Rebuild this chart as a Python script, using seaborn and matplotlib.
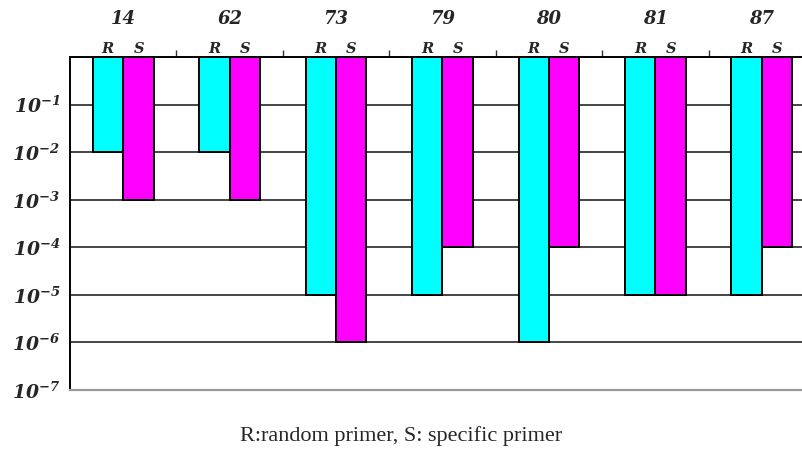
import numpy as np
import pandas as pd
import matplotlib
matplotlib.use("Agg")
import matplotlib.pyplot as plt
import matplotlib.transforms as mtransforms
import seaborn as sns

# ============================================================
# DATA (dilution limit reached)
# ============================================================
samples = ["14", "62", "73", "79", "80", "81", "87"]
random_primer = [1e-2, 1e-2, 1e-5, 1e-5, 1e-6, 1e-5, 1e-5]
specific_primer = [1e-3, 1e-3, 1e-6, 1e-4, 1e-4, 1e-5, 1e-4]
primer_labels = ["R", "S"]
decades = [1, 2, 3, 4, 5, 6, 7]
caption = "R:random primer, S: specific primer"

df = pd.DataFrame({
    "sample": samples * 2,
    "primer": ["R"] * len(samples) + ["S"] * len(samples),
    "value": random_primer + specific_primer,
})
# bars hang from 10^0 at the top: depth = number of decades
df["depth"] = -np.log10(df["value"])

# ============================================================
# STYLE
# ============================================================
sns.set_style("white")
plt.rcParams["mathtext.fontset"] = "custom"
plt.rcParams["mathtext.rm"] = "DejaVu Serif:italic:bold"
plt.rcParams["mathtext.it"] = "DejaVu Serif:italic:bold"

fig = plt.figure(figsize=(8.03, 4.57), dpi=100)
ax = fig.add_axes([70 / 803, 67 / 457, 745 / 803, 333 / 457])

sns.barplot(data=df, x="sample", y="depth", hue="primer",
            order=samples, hue_order=primer_labels,
            palette={"R": "#00FFFF", "S": "#FF00FF"}, saturation=1,
            width=0.57, edgecolor="black", linewidth=1.4,
            legend=False, ax=ax)

ax.set_xlim(-0.5, len(samples) - 0.5)
ax.set_ylim(7, 0)
ax.set_axisbelow(True)

# horizontal decade lines
ax.set_yticks(decades)
ax.set_yticklabels([r"$10^{-%d}$" % d for d in decades], fontsize=13.5)
ax.yaxis.grid(True, color="#444444", linewidth=1.4)
ax.tick_params(axis="y", length=0, pad=7)

# top axis: sample numbers + group separators
ax.xaxis.tick_top()
ax.set_xticks(range(len(samples)))
ax.set_xticklabels(samples, fontsize=13, fontfamily="DejaVu Serif",
                   fontstyle="italic", fontweight="bold")
ax.set_xticks(np.arange(0.5, len(samples) - 0.5, 1), minor=True)
ax.tick_params(axis="x", which="major", length=0, pad=21)
ax.tick_params(axis="x", which="minor", length=5, width=1,
               direction="out", color="#333333")
ax.set_xlabel("")
ax.set_ylabel("")

# R / S labels above each pair
trans = mtransforms.blended_transform_factory(ax.transData, ax.transAxes)
for i in range(len(samples)):
    for off, lab in zip([-0.145, 0.145], primer_labels):
        ax.text(i + off, 1.002, lab, transform=trans, ha="center",
                va="bottom", fontsize=10.5, fontfamily="DejaVu Serif",
                fontstyle="italic", fontweight="bold")

for side in ["left", "top"]:
    ax.spines[side].set_color("black")
    ax.spines[side].set_linewidth(1.4)
ax.spines["bottom"].set_color("#999999")
ax.spines["bottom"].set_linewidth(1.6)
ax.spines["right"].set_visible(False)

fig.text(401 / 803, (457 - 436) / 457, caption, ha="center",
         va="center", fontsize=16, fontfamily="Liberation Serif")

fig.savefig("out.png", dpi=100)
